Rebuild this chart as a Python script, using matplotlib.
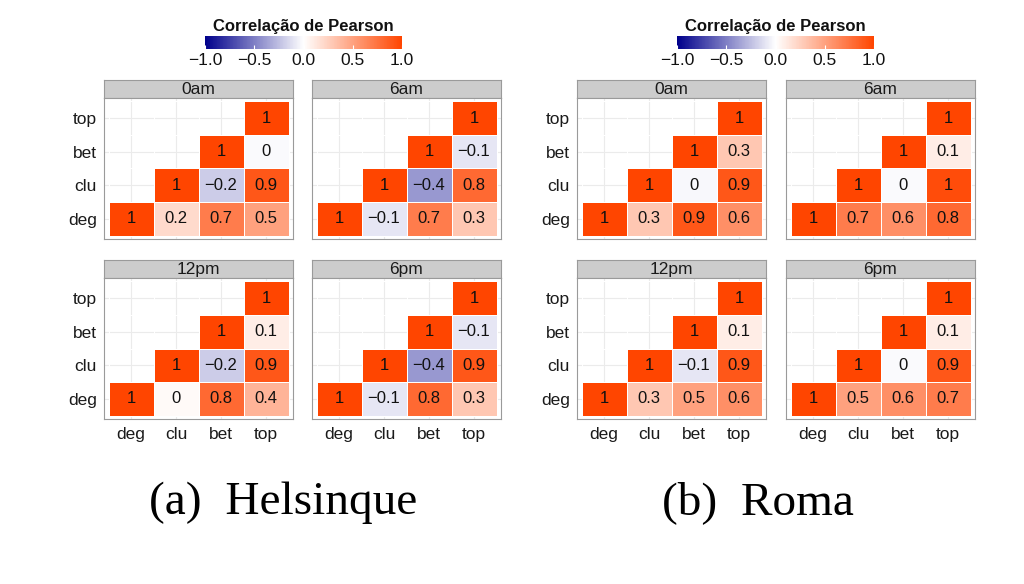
import numpy as np
import matplotlib.pyplot as plt
from matplotlib.colors import LinearSegmentedColormap, Normalize
from matplotlib.cm import ScalarMappable

# data #

variables = ['deg', 'clu', 'bet', 'top']
periods = ['0am', '6am', '12pm', '6pm']
# pair order: deg-clu, deg-bet, deg-top, clu-bet, clu-top, bet-top
hel_0am = [0.2, 0.7, 0.5, -0.2, 0.9, -0.02]
hel_6am = [-0.1, 0.7, 0.3, -0.4, 0.8, -0.1]
hel_12pm = [0.03, 0.8, 0.4, -0.2, 0.9, 0.1]
hel_6pm = [-0.1, 0.8, 0.3, -0.4, 0.9, -0.1]
rom_0am = [0.3, 0.9, 0.6, -0.03, 0.9, 0.3]
rom_6am = [0.7, 0.6, 0.8, -0.02, 0.96, 0.1]
rom_12pm = [0.3, 0.5, 0.6, -0.1, 0.9, 0.1]
rom_6pm = [0.5, 0.6, 0.7, -0.02, 0.9, 0.1]
cities = ['(a)  Helsinque', '(b)  Roma']
cbar_ticks = [-1.0, -0.5, 0.0, 0.5, 1.0]

city_data = [[hel_0am, hel_6am, hel_12pm, hel_6pm],
             [rom_0am, rom_6am, rom_12pm, rom_6pm]]

# style #

W, H = 1024, 584
cmap = LinearSegmentedColormap.from_list('pearson', ['#00008B', '#FFFFFF', '#FF4500'])
norm = Normalize(-1, 1)
SANS = ['Liberation Sans', 'DejaVu Sans']
plt.rcParams['font.family'] = SANS


def px(x0, y0, x1, y1):
    return [x0 / W, 1 - y1 / H, (x1 - x0) / W, (y1 - y0) / H]


def fmt(v):
    r = round(v, 1)
    if r == 0:
        return '0'
    if r == int(r):
        return str(int(r)).replace('-', '\u2212')
    return f'{r:g}'.replace('-', '\u2212')


def to_matrix(pairs):
    # m[row, col] -> row = y index (deg at bottom), col = x index
    n = len(variables)
    m = np.full((n, n), np.nan)
    k = 0
    for i in range(n):
        m[i, i] = 1.0
        for j in range(i + 1, n):
            m[i, j] = pairs[k]
            k += 1
    return m


fig = plt.figure(figsize=(W / 100, H / 100), dpi=100)

city_x = [[104, 312], [577, 786]]
panel_w = 189
row_y = [80, 260]
strip_h = 18
body_h = 141

for c in range(2):
    for p in range(4):
        col, row = p % 2, p // 2
        x0 = city_x[c][col]
        y0 = row_y[row]
        # strip
        sax = fig.add_axes(px(x0, y0, x0 + panel_w, y0 + strip_h))
        sax.set_facecolor('#CCCCCC')
        sax.set_xticks([])
        sax.set_yticks([])
        for s in sax.spines.values():
            s.set_color('#9a9a9a')
        sax.text(0.5, 0.45, periods[p], ha='center', va='center', fontsize=12.5,
                 color='#1a1a1a', transform=sax.transAxes)
        # body
        ax = fig.add_axes(px(x0, y0 + strip_h, x0 + panel_w, y0 + strip_h + body_h))
        m = to_matrix(city_data[c][p])
        edges = np.arange(-0.5, 4, 1)
        ax.pcolormesh(edges, edges, np.ma.masked_invalid(m), cmap=cmap, norm=norm,
                      edgecolors='white', linewidth=0.6)
        for i in range(4):
            for j in range(i, 4):
                ax.text(j, i, fmt(m[i, j]), ha='center', va='center', fontsize=12,
                        color='#111111')
        ax.set_xlim(-0.6, 3.6)
        ax.set_ylim(-0.6, 3.6)
        ax.set_xticks(range(4))
        ax.set_yticks(range(4))
        ax.set_xticklabels(variables if row == 1 else [])
        ax.set_yticklabels(variables if col == 0 else [])
        ax.tick_params(length=0, labelsize=12.5, labelcolor='#1a1a1a')
        ax.tick_params(axis='x', pad=6)
        ax.tick_params(axis='y', pad=5)
        ax.grid(color='#EBEBEB', linewidth=0.8)
        ax.set_axisbelow(True)
        for s in ax.spines.values():
            s.set_color('#9a9a9a')

# colour bars #

cbar_x = [205, 677]
for c in range(2):
    cax = fig.add_axes(px(cbar_x[c], 36, cbar_x[c] + 197, 49))
    cb = fig.colorbar(ScalarMappable(norm=norm, cmap=cmap), cax=cax, orientation='horizontal')
    cb.outline.set_visible(False)
    cb.set_ticks(cbar_ticks)
    cb.set_ticklabels([f'{t:.1f}'.replace('-', '\u2212') for t in cbar_ticks])
    cax.tick_params(axis='x', direction='in', length=3, color='white', width=0.8,
                    labelsize=12.5, labelcolor='#111111', pad=3)
    fig.text((cbar_x[c] + 98.5) / W, 1 - 26 / H, 'Correlação de Pearson', ha='center',
             va='center', fontsize=12, fontweight='bold', color='#111111')

# captions #

cap_x = [283, 758]
for c in range(2):
    fig.text(cap_x[c] / W, 1 - 503 / H, cities[c], ha='center', va='center',
             fontsize=34, family=['Liberation Serif', 'DejaVu Serif'])

fig.savefig('out.png', dpi=100, facecolor='white')
